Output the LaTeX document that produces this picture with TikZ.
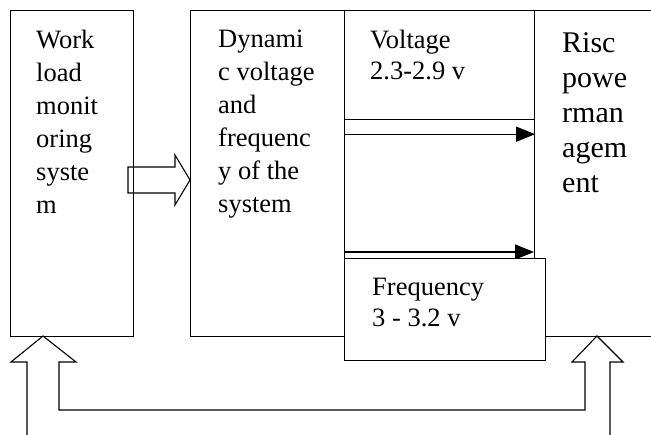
\documentclass[tikz,border=0pt]{standalone}
\usepackage{fontspec}
\setmainfont{Liberation Serif}
\usetikzlibrary{arrows.meta}

\tikzset{
  box/.style={draw, line width=1.2pt, anchor=north west, inner sep=0pt},
  txt/.style={anchor=north west, inner sep=0pt, align=left, font=\fontsize{26.5}{33}\selectfont},
}

\begin{document}
\begin{tikzpicture}[x=1pt, y=-1pt]
\useasboundingbox (0, 0) rectangle (651, 435);
\clip (0, 0) rectangle (651, 435);

% 方框
\node[box, minimum width=123pt, minimum height=326pt] (wl) at (10, 10) {};
\node[box, minimum width=154pt, minimum height=326pt] (dvf) at (190, 10) {};
\node[box, minimum width=190pt, minimum height=109pt] (volt) at (344, 10) {};
\node[box, minimum width=130pt, minimum height=326pt] (risc) at (534, 10) {};

% 文字
\node[txt] (wltext) at (36, 30) {Work\\load\\monit\\oring\\syste\\m};
\node[txt] (dvftext) at (218, 30) {Dynami\\c voltage\\and\\frequenc\\y of the\\system};
\node[txt, font=\fontsize{26.5}{31}\selectfont] (volttext) at (370, 30) {Voltage\\2.3-2.9 v};
\node[txt, font=\fontsize{30}{35}\selectfont] (risctext) at (562, 32) {Risc\\powe\\rman\\agem\\ent};

% 细箭头
\coordinate (f2) at (344, 252);
\draw[line width=1.2pt, -{Triangle[length=19pt, width=15pt]}] ([yshift=-14pt]volt.south west) -- ([yshift=-14pt]volt.south east);
\draw[line width=1.2pt, -{Triangle[length=19pt, width=15pt]}] (f2) -- (f2 -| risc.west);

% 频率方框
\node[box, fill=white, minimum width=201pt, minimum height=102pt] (freq) at (344, 258) {};
\node[txt, font=\fontsize{26.5}{31}\selectfont] (freqtext) at (372, 278) {Frequency\\3 - 3.2 v};

% 空心箭头
\coordinate (a1) at (dvf.west |- 0, 180);
\draw[line width=1.1pt] (a1) -- ++(-15, -25) -- ++(0, 12) -- ++(-47, 0) -- ++(0, 26) -- ++(47, 0) -- ++(0, 12) -- cycle;

\coordinate (tipL) at (43, 336);
\coordinate (tipR) at (597, 336);
\draw[line width=1.1pt] (27, 440) -- (27, 362) -- (11, 362) -- (tipL) -- (76, 362) -- (59, 362) -- (59, 410)
  -- (585, 410) -- (585, 362) -- (572, 362) -- (tipR) -- (623, 362) -- (610, 362) -- (610, 440);

\end{tikzpicture}
\end{document}
